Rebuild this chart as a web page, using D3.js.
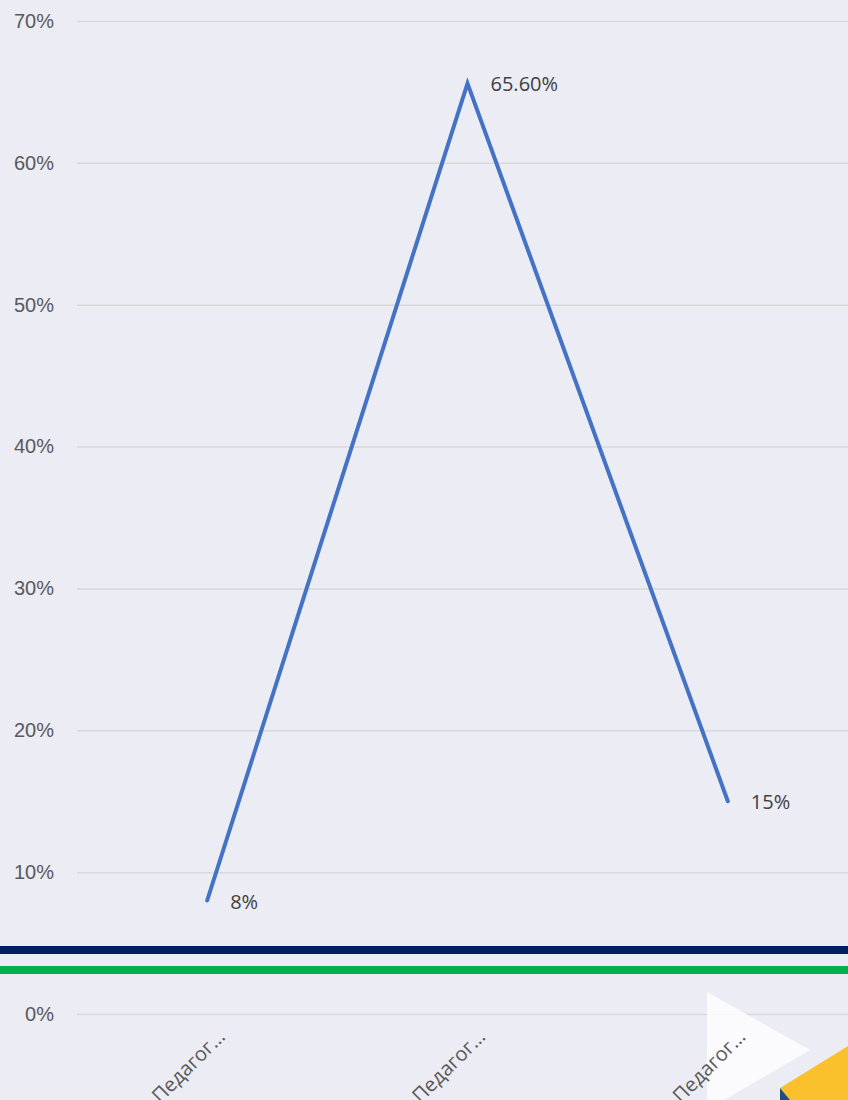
<!DOCTYPE html>
<html>
<head>
<meta charset="utf-8">
<script src="https://cdn.jsdelivr.net/npm/d3@7"></script>
<style>
  html, body { margin: 0; padding: 0; background: #ECECF5; }
  svg { display: block; font-family: "Open Sans", "Liberation Sans", sans-serif; }
</style>
</head>
<body>
<div id="svg-container"></div>
<script>
// data
const categories = ["Педагог-1", "Педагог-2", "Педагог-3"];
const shortLabels = ["Педагог…", "Педагог…", "Педагог…"];
const values = [0.08, 0.656, 0.15];
const valueLabels = ["8%", "65.60%", "15%"];
const yTicks = [0, 0.1, 0.2, 0.3, 0.4, 0.5, 0.6, 0.7];

const width = 848, height = 1100;
const margin = { top: 21, right: -10, bottom: 86, left: 77 };

const svg = d3.select("#svg-container").append("svg")
  .attr("width", width).attr("height", height);

svg.append("rect").attr("width", width).attr("height", height).attr("fill", "#ECECF5");

// scales
const xScale = d3.scaleBand().domain(categories)
  .range([margin.left, width - margin.right]);
const yScale = d3.scaleLinear().domain([0, 0.7])
  .range([height - margin.bottom, margin.top]);

// grid + y labels
const yAxis = d3.axisLeft(yScale)
  .tickValues(yTicks)
  .tickFormat(d3.format(".0%"))
  .tickSize(-(width - margin.left))
  .tickPadding(23);

const gy = svg.append("g")
  .attr("class", "y-axis")
  .attr("transform", `translate(${margin.left},0)`)
  .call(yAxis);
gy.select(".domain").remove();
gy.selectAll(".tick line").attr("stroke", "#D9D9D9").attr("stroke-width", 1.5);
gy.selectAll(".tick text").attr("fill", "#595959").attr("font-size", 20);

// decorative bands
svg.append("rect").attr("x", 0).attr("y", 946).attr("width", width).attr("height", 8).attr("fill", "#002060");
svg.append("rect").attr("x", 0).attr("y", 966).attr("width", width).attr("height", 8).attr("fill", "#00B050");

// decorative corner shapes
svg.append("path").attr("d", "M707,992 L810,1050 L707,1110 Z").attr("fill", "#ffffff").attr("opacity", 0.8);
svg.append("path").attr("d", "M780,1088 L848,1046 L848,1100 L790,1100 Z").attr("fill", "#FBC12D");
svg.append("path").attr("d", "M780,1088 L790,1100 L780,1100 Z").attr("fill", "#1F4E79");

// x labels
const cx = (d) => xScale(d) + xScale.bandwidth() / 2;
svg.append("g").selectAll("text")
  .data(categories)
  .join("text")
  .attr("transform", (d) => `translate(${cx(d) + 19},${height - margin.bottom + 24}) rotate(-45)`)
  .attr("text-anchor", "end")
  .attr("fill", "#595959")
  .attr("font-size", 20)
  .text((d, i) => shortLabels[i]);

// line
const line = d3.line()
  .x((d, i) => cx(categories[i]))
  .y((d) => yScale(d));

svg.append("path")
  .datum(values)
  .attr("fill", "none")
  .attr("stroke", "#4472C4")
  .attr("stroke-width", 4)
  .attr("stroke-linecap", "round")
  .attr("d", line);

// data labels
svg.append("g").selectAll("text")
  .data(values)
  .join("text")
  .attr("x", (d, i) => cx(categories[i]) + 23)
  .attr("y", (d) => yScale(d) + 8)
  .attr("fill", "#404040")
  .attr("font-size", 20)
  .text((d, i) => valueLabels[i]);
</script>
</body>
</html>
